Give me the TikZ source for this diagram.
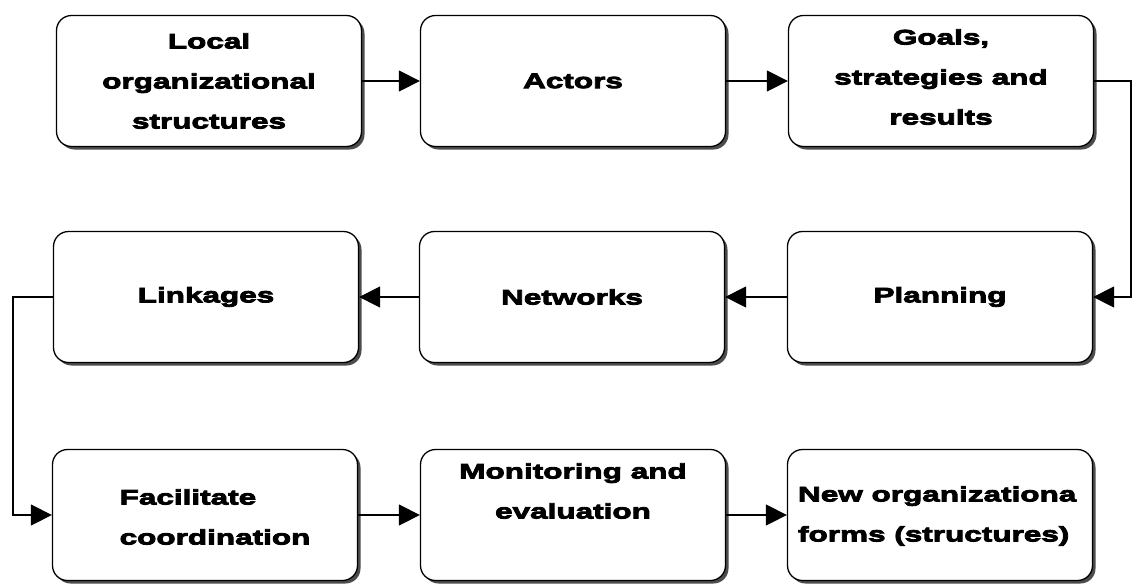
\documentclass[tikz,border=0pt]{standalone}
\usepackage{fontspec}
\newfontfamily\boxfont{Liberation Sans}[UprightFont=*-Bold, FakeStretch=1.5, FakeBold=4]
\usetikzlibrary{arrows.meta,shadows}
\begin{document}
\begin{tikzpicture}[x=1pt,y=-1pt,
  stepbox/.style={draw=black, line width=1.3pt, fill=white, rounded corners=15pt,
    minimum width=305pt, minimum height=131pt, inner sep=0pt,
    drop shadow={shadow xshift=3pt, shadow yshift=-3pt, fill=black!70, opacity=1}},
  boxtext/.style={font=\boxfont\fontsize{21}{40}\selectfont, inner sep=0pt},
  arr/.style={line width=1.4pt, -{Triangle[length=21pt,width=21pt]}},
  ]
\useasboundingbox (0,0) rectangle (1133,584);
% boxes
\node[stepbox] (b1) at (209,81) {};
\node[stepbox] (b2) at (573,81) {};
\node[stepbox] (b3) at (941,81) {};
\node[stepbox] (b4) at (206,297) {};
\node[stepbox] (b5) at (572,297) {};
\node[stepbox] (b6) at (940,297) {};
\node[stepbox] (b7) at (205,515) {};
\node[stepbox] (b8) at (573,515) {};
\node[stepbox] (b9) at (940,515) {};
% texts
\node[boxtext, align=center] (t1) at (b1.center) {Local\\organizational\\structures};
\node[boxtext, align=center] (t2) at (b2.center) {Actors};
\node[boxtext, align=center] (t3) at ([yshift=4pt]b3.center) {Goals,\\strategies and\\results};
\node[boxtext, align=center] (t4) at (b4.center) {Linkages};
\node[boxtext, align=center] (t5) at (b5.center) {Networks};
\node[boxtext, align=center] (t6) at (b6.center) {Planning};
\node[boxtext, align=left] (t7) at ([xshift=10pt,yshift=-2pt]b7.center) {Facilitate\\coordination};
\node[boxtext, align=center] (t8) at ([yshift=24pt]b8.center) {Monitoring and\\evaluation};
\node[boxtext, align=left, anchor=west] (t9) at ([xshift=11pt,yshift=-1pt]b9.west) {New organizationa\\forms (structures)};
% connectors
\coordinate (cR) at (1131,190);
\coordinate (cL) at (13,400);
\draw[arr] (b1.east) -- (b2.west);
\draw[arr] (b2.east) -- (b3.west);
\draw[arr] (b3.east) -| (cR) |- (b6.east);
\draw[arr] (b6.west) -- (b5.east);
\draw[arr] (b5.west) -- (b4.east);
\draw[arr] (b4.west) -| (cL) |- (b7.west);
\draw[arr] (b7.east) -- (b8.west);
\draw[arr] (b8.east) -- (b9.west);
\end{tikzpicture}
\end{document}
